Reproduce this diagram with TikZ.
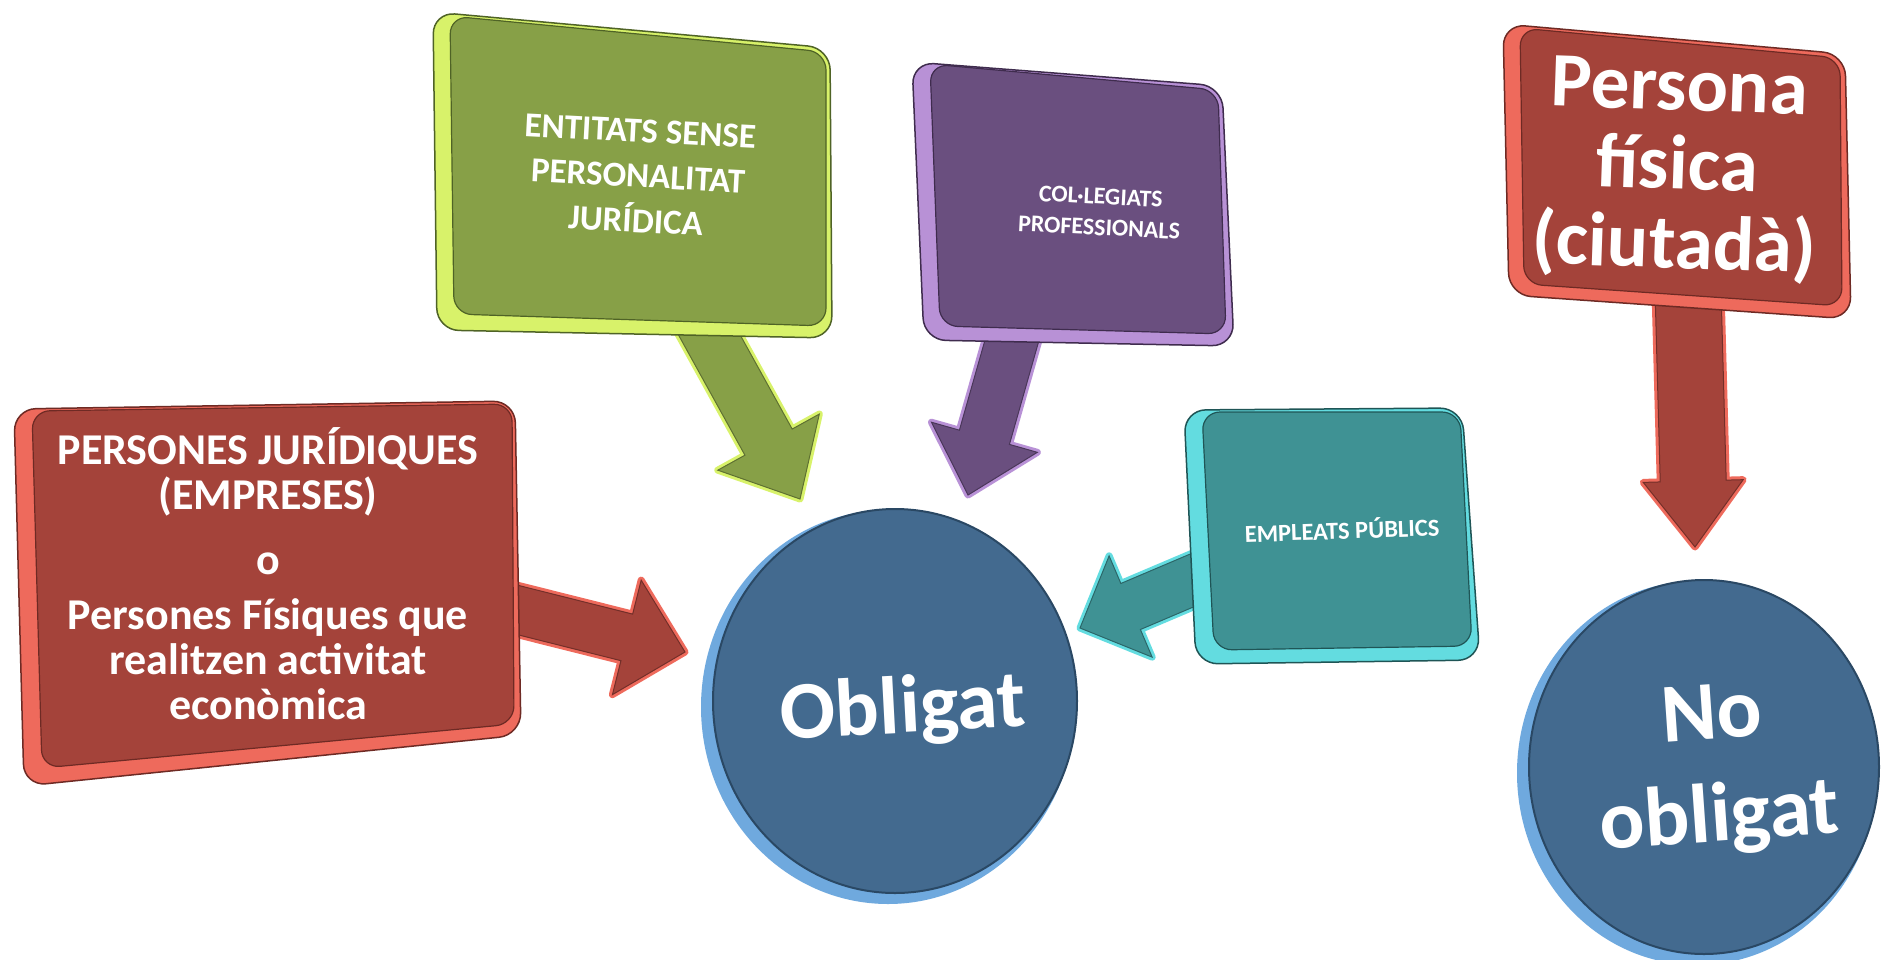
\documentclass[tikz,border=0pt]{standalone}
\usepackage{fontspec}
\setmainfont{Carlito}
\usetikzlibrary{calc}
\definecolor{redF}{HTML}{A4433A}
\definecolor{redR}{HTML}{EE6A5C}
\definecolor{redD}{HTML}{6E2A24}
\definecolor{grnF}{HTML}{87A047}
\definecolor{grnR}{HTML}{D8F26A}
\definecolor{grnD}{HTML}{4F6326}
\definecolor{purF}{HTML}{6A4F7F}
\definecolor{purR}{HTML}{B891D6}
\definecolor{purD}{HTML}{3F2C4E}
\definecolor{teaF}{HTML}{3F9294}
\definecolor{teaR}{HTML}{63DCE0}
\definecolor{teaD}{HTML}{1F5556}
\definecolor{bluF}{HTML}{436A8F}
\definecolor{bluR}{HTML}{6FA9DE}
\definecolor{bluD}{HTML}{2A4864}
\newcommand\blockarrow[6]{%
  \coordinate (hb) at ($(#3)!#6!(#2)$);
  \path[#1] ($(#2)!#4!90:(#3)$) -- ($(hb)!#4!90:(#3)$) -- ($(hb)!#5!90:(#3)$) -- (#3)
    -- ($(hb)!#5!-90:(#3)$) -- ($(hb)!#4!-90:(#3)$) -- ($(#2)!#4!-90:(#3)$) -- cycle;
}
\tikzset{
  arim/.style={fill=#1, draw=#1, line width=7pt, line join=round},
  aface/.style={fill=#1, draw=#1!70!black, line width=1pt, line join=miter},
  boxrim/.style={fill=#1R, draw=#1D, line width=1.5pt, rounded corners=22pt},
  boxface/.style={fill=#1F, draw=#1D, line width=1.2pt, rounded corners=18pt},
  lbl/.style={text=white, font=\bfseries, align=center, inner sep=0pt},
}
\begin{document}
\begin{tikzpicture}[x=1pt,y=-1pt]
\useasboundingbox (0,0) rectangle (1885,959);
\fill[white] (0,0) rectangle (1885,959);
% circles
\coordinate (oblC) at (895,701);
\coordinate (nobC) at (1704,767);
\fill[bluR] ($(oblC)+(-7,6)$) ellipse [x radius=187, y radius=197];
\filldraw[fill=bluF, draw=bluD, line width=2pt] (oblC) ellipse [x radius=182, y radius=192];
\fill[bluR] ($(nobC)+(-7,6)$) ellipse [x radius=180, y radius=192];
\filldraw[fill=bluF, draw=bluD, line width=2pt] (nobC) ellipse [x radius=175, y radius=187];
% arrow end points
\coordinate (a1s) at (470,598);
\coordinate (a1e) at (685,652);
\coordinate (a2s) at (690,300);
\coordinate (a2e) at (800,499);
\coordinate (a3s) at (1022,305);
\coordinate (a3e) at (968,495);
\coordinate (a4s) at (1240,560);
\coordinate (a4e) at (1080,628);
\coordinate (a5s) at (1688,290);
\coordinate (a5e) at (1695,547);
% arrows
\blockarrow{arim=redR}{a1s}{a1e}{24pt}{59pt}{60pt}
\blockarrow{aface=redF}{a1s}{a1e}{24pt}{59pt}{60pt}
\blockarrow{arim=grnR}{a2s}{a2e}{27pt}{58pt}{65pt}
\blockarrow{aface=grnF}{a2s}{a2e}{27pt}{58pt}{65pt}
\blockarrow{arim=purR}{a3s}{a3e}{26pt}{55pt}{60pt}
\blockarrow{aface=purF}{a3s}{a3e}{26pt}{55pt}{60pt}
\blockarrow{arim=teaR}{a4s}{a4e}{25pt}{55pt}{55pt}
\blockarrow{aface=teaF}{a4s}{a4e}{25pt}{55pt}{55pt}
\blockarrow{arim=redR}{a5s}{a5e}{33pt}{50pt}{66pt}
\blockarrow{aface=redF}{a5s}{a5e}{33pt}{50pt}{66pt}
% boxes
\filldraw[boxrim=red] (14,409) -- (515,401) -- (521,735) -- (24,786) -- cycle;
\filldraw[boxface=red] (32,411) -- (512,404) -- (514,724) -- (42,768) -- cycle;
\filldraw[boxrim=grn] (433,12) -- (830,48) -- (832,338) -- (437,330) -- cycle;
\filldraw[boxface=grn] (450,16) -- (826,52) -- (826,326) -- (454,314) -- cycle;
\filldraw[boxrim=pur] (912,62) -- (1222,86) -- (1234,346) -- (924,340) -- cycle;
\filldraw[boxface=pur] (930,64) -- (1218,90) -- (1226,334) -- (940,326) -- cycle;
\filldraw[boxrim=tea] (1184,410) -- (1462,408) -- (1480,660) -- (1196,664) -- cycle;
\filldraw[boxface=tea] (1202,412) -- (1460,412) -- (1472,646) -- (1214,650) -- cycle;
\filldraw[boxrim=red] (1503,24) -- (1845,54) -- (1851,319) -- (1509,295) -- cycle;
\filldraw[boxface=red] (1520,28) -- (1840,58) -- (1842,306) -- (1524,284) -- cycle;
% labels
\node[lbl, font=\bfseries\fontsize{44}{45}\selectfont] (pj) at (268,574)
  {PERSONES JURÍDIQUES\\(EMPRESES)\\[20pt]o\\[10pt]Persones Físiques que\\realitzen activitat\\econòmica};
\node[lbl, font=\bfseries\fontsize{35}{45}\selectfont, rotate=-3] (es) at (638,176)
  {ENTITATS SENSE\\PERSONALITAT\\JURÍDICA};
\node[lbl, font=\bfseries\fontsize{24}{31}\selectfont, rotate=-3] (cp) at (1100,212)
  {COL·LEGIATS\\PROFESSIONALS};
\node[lbl, font=\bfseries\fontsize{24.5}{30}\selectfont, rotate=2] (ep) at (1342,529)
  {EMPLEATS PÚBLICS};
\node[lbl, font=\bfseries\fontsize{77}{79}\selectfont, rotate=-2] (pf) at (1677,170)
  {Persona\\física\\(ciutadà)};
\node[lbl, font=\bfseries\fontsize{82}{90}\selectfont, rotate=3] (obl) at (903,711) {Obligat};
\node[lbl, font=\bfseries\fontsize{84}{102}\selectfont, rotate=4] (nob) at (1716,770) {No\\obligat};
\end{tikzpicture}
\end{document}
